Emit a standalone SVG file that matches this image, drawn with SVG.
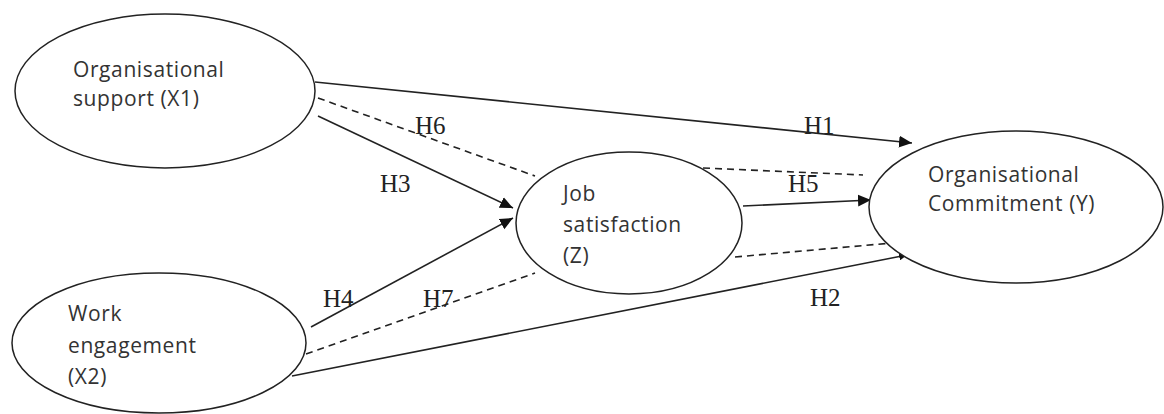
<svg xmlns="http://www.w3.org/2000/svg" width="1164" height="414" viewBox="0 0 1164 414">
<style>
.node{fill:#fff;stroke:#222;stroke-width:1.5}
.lbl{font-family:"Open Sans","Liberation Sans",sans-serif;font-size:21px;letter-spacing:0.6px;fill:#333}
.h{font-family:"Liberation Serif","Times New Roman",serif;font-size:25px;fill:#222}
.c{stroke:#222;stroke-width:1.6;fill:none}
.d{stroke:#222;stroke-width:1.6;fill:none;stroke-dasharray:7 5}
</style>
<defs>
<marker id="ah" viewBox="0 0 10 10" refX="10" refY="5" markerWidth="8" markerHeight="8" markerUnits="userSpaceOnUse" orient="auto"><path d="M0,0 L10,5 L0,10 z" fill="#111"/></marker>
<marker id="ahb" viewBox="0 0 10 10" refX="10" refY="5" markerWidth="13" markerHeight="13" markerUnits="userSpaceOnUse" orient="auto"><path d="M0,0.5 L10,5 L0,9.5 z" fill="#111"/></marker>
</defs>
<rect width="1164" height="414" fill="#fff"/>
<g id="connectors">
<line class="c" x1="315" y1="82" x2="912" y2="143" marker-end="url(#ahb)"/>
<line class="d" x1="318" y1="98" x2="535" y2="176"/>
<line class="c" x1="318" y1="116" x2="513" y2="208" marker-end="url(#ahb)"/>
<line class="c" x1="311" y1="327" x2="513" y2="218" marker-end="url(#ahb)"/>
<line class="d" x1="306" y1="354" x2="535" y2="273"/>
<line class="c" x1="292" y1="376" x2="907" y2="255" marker-end="url(#ah)"/>
<line class="c" x1="743" y1="206" x2="871" y2="200" marker-end="url(#ahb)"/>
<line class="d" x1="703" y1="168" x2="863" y2="175"/>
<line class="d" x1="735" y1="257" x2="892" y2="243"/>
<text class="h" x="804" y="134">H1</text>
<text class="h" x="415" y="134">H6</text>
<text class="h" x="380" y="192">H3</text>
<text class="h" x="323" y="307">H4</text>
<text class="h" x="423" y="307">H7</text>
<text class="h" x="788" y="192">H5</text>
<text class="h" x="810" y="306">H2</text>
</g>
<g id="x1">
<ellipse class="node" cx="165" cy="91" rx="150" ry="77"/>
<text class="lbl" x="73" y="77">Organisational</text>
<text class="lbl" x="73" y="106">support (X1)</text>
</g>
<g id="x2">
<ellipse class="node" cx="159" cy="343" rx="147" ry="70"/>
<text class="lbl" x="68" y="321">Work</text>
<text class="lbl" x="68" y="353">engagement</text>
<text class="lbl" x="68" y="384">(X2)</text>
</g>
<g id="z">
<ellipse class="node" cx="629" cy="223" rx="113" ry="71"/>
<text class="lbl" x="563" y="201">Job</text>
<text class="lbl" x="563" y="232">satisfaction</text>
<text class="lbl" x="563" y="263">(Z)</text>
</g>
<g id="y">
<ellipse class="node" cx="1016" cy="207" rx="147" ry="76"/>
<text class="lbl" x="928" y="182">Organisational</text>
<text class="lbl" x="928" y="211">Commitment (Y)</text>
</g>
</svg>
